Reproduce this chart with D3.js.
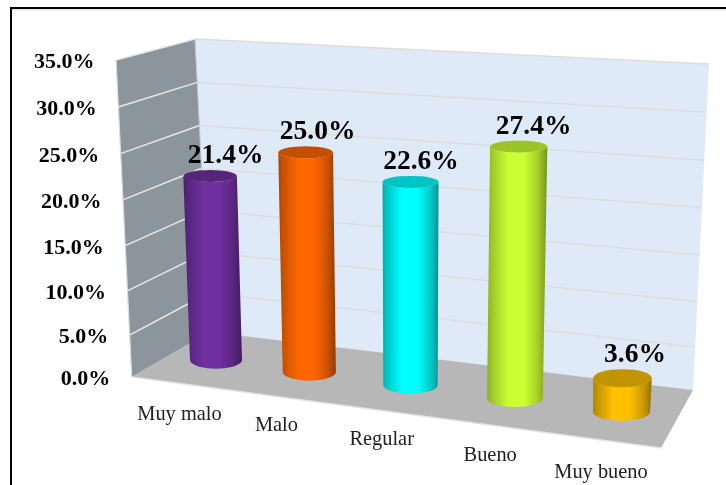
<!DOCTYPE html>
<html><head><meta charset="utf-8">
<script src="https://cdn.jsdelivr.net/npm/d3@7"></script>
<style>html,body{margin:0;padding:0;background:#fff;overflow:hidden}svg{display:block;filter:blur(.35px)}text{font-family:"Liberation Serif",serif}</style>
</head><body><svg id="c" width="726" height="485"></svg>
<script>
const categories = ["Muy malo","Malo","Regular","Bueno","Muy bueno"];
const values = [21.4,25.0,22.6,27.4,3.6];
const barColors = ["#7030a0","#ff6600","#00ffff","#ccff33","#ffc000"];
const tickValues = [0,5,10,15,20,25,30,35];

const svg = d3.select("#c");
const defs = svg.append("defs");

// Wall geometry of the 3-D box
const P = {frontTop:[116,60],backTop:[195,39],backBottom:[210,332],frontBottom:[131.7,377],rightTop:[709,64],rightBottom:[693,390],floorFront:[661,448]};
const frac = d3.scalePow().exponent(1.04).domain([0,35]).range([0,1]);
const lerp = (a,b,t)=>[a[0]+(b[0]-a[0])*t,a[1]+(b[1]-a[1])*t];
const poly = pts => pts.map(p=>p.join(",")).join(" ");

// Frame
svg.append("rect").attr("x",12).attr("y",9).attr("width",714).attr("height",1.5).attr("fill","#e4e4e4");
svg.append("path").attr("d","M11,485V8H726").attr("fill","none").attr("stroke","#000").attr("stroke-width",2);

// Walls and floor
svg.append("polygon").attr("points",poly([P.backTop,P.rightTop,P.rightBottom,P.backBottom])).attr("fill","#deeaf8");
svg.append("polygon").attr("points",poly([P.frontTop,P.backTop,P.backBottom,P.frontBottom])).attr("fill","#8c959c");
svg.append("polygon").attr("points",poly([P.frontBottom,P.backBottom,P.rightBottom,P.floorFront])).attr("fill","#b7b7b7");

// Grid
tickValues.filter(v=>v>0).forEach(v=>{
  const t=frac(v), a=lerp(P.frontBottom,P.frontTop,t), b=lerp(P.backBottom,P.backTop,t), c=lerp(P.rightBottom,P.rightTop,t);
  svg.append("line").attr("x1",a[0]).attr("y1",a[1]).attr("x2",b[0]).attr("y2",b[1]).attr("stroke","#e6e8ea").attr("stroke-width",1.5);
  svg.append("line").attr("x1",b[0]).attr("y1",b[1]).attr("x2",c[0]).attr("y2",c[1]).attr("stroke","#e0dcd9").attr("stroke-width",1.5);
});
svg.append("line").attr("x1",P.frontTop[0]).attr("y1",P.frontTop[1]).attr("x2",P.frontBottom[0]).attr("y2",P.frontBottom[1]).attr("stroke","#dcdfe1").attr("stroke-width",1.2);
svg.append("line").attr("x1",P.backTop[0]).attr("y1",P.backTop[1]).attr("x2",P.backBottom[0]).attr("y2",P.backBottom[1]).attr("stroke","#c4ccd4").attr("stroke-width",1);
svg.append("line").attr("x1",P.frontBottom[0]).attr("y1",P.frontBottom[1]).attr("x2",P.floorFront[0]).attr("y2",P.floorFront[1]).attr("stroke","#e4e4e4").attr("stroke-width",1.5);

// Value axis labels
svg.append("g").selectAll("text").data(tickValues).join("text")
  .attr("x",v=>lerp(P.frontBottom,P.frontTop,frac(v))[0]-21.5)
  .attr("y",v=>lerp(P.frontBottom,P.frontTop,frac(v))[1]+8)
  .attr("text-anchor","end").attr("font-size",22).attr("font-weight","bold").attr("fill","#000")
  .text(v=>d3.format(".1f")(v)+"%");

// Category positions along the floor
const idx = d3.scalePow().exponent(1.06).domain([0,categories.length-1]);
const baseX = idx.copy().range([216,621.5]);
const labX = idx.copy().range([179.5,601]);
const labY = d3.scalePow().exponent(1.2).domain([0,categories.length-1]).range([420,478]);
const baseY = d3.scaleLinear().domain([216,621.5]).range([360,412]);
const pxPerUnit = d3.scaleLinear().domain([216,621.5]).range([8.6,9.4]);
const lean = d3.scaleLinear().domain([216,409,621.5]).range([-0.032,0,0.03]);
const rxBase = d3.scaleLinear().domain([216,621.5]).range([26,28.5]);
const ryTop = d3.scaleLinear().domain([34,184]).range([9,6]).clamp(true);
const labelDx = d3.scaleLinear().domain([0,1,2,3,4]).range([15.5,12,10.5,15,12.5]);
const ryBase = 8.7;

const bars = values.map((v,i)=>{
  const bx=baseX(i), by=baseY(bx), h=v*pxPerUnit(bx);
  return {v,i,bx,by,h,tx:bx+h*lean(bx),ty:by-h,rb:rxBase(bx),rt:rxBase(bx)+0.8,ry:ryTop(h),c:barColors[i]};
});

const shade=(c,k)=>{const r=d3.rgb(c);return d3.rgb(r.r*k,r.g*k,r.b*k).formatHex();};
bars.forEach(d=>{
  const g=defs.append("linearGradient").attr("id","g"+d.i).attr("x1",0).attr("x2",1).attr("y1",0).attr("y2",0);
  [[0,.68],[.08,.78],[.35,1],[.62,1],[.85,.8],[1,.58]].forEach(s=>g.append("stop").attr("offset",s[0]).attr("stop-color",shade(d.c,s[1])));
});

const gb=svg.append("g");
gb.selectAll("path").data(bars).join("path")
  .attr("d",d=>`M${d.tx-d.rt},${d.ty}L${d.bx-d.rb},${d.by}A${d.rb},${ryBase} 0 0 0 ${d.bx+d.rb},${d.by}L${d.tx+d.rt},${d.ty}A${d.rt},${d.ry} 0 0 1 ${d.tx-d.rt},${d.ty}Z`)
  .attr("fill",d=>`url(#g${d.i})`);
gb.selectAll("ellipse").data(bars).join("ellipse")
  .attr("cx",d=>d.tx).attr("cy",d=>d.ty).attr("rx",d=>d.rt).attr("ry",d=>d.ry)
  .attr("fill",d=>shade(d.c,.77));

// Data labels
svg.append("g").selectAll("text").data(bars).join("text")
  .attr("x",d=>d.tx+labelDx(d.i)).attr("y",d=>d.ty-d.ry-7)
  .attr("text-anchor","middle").attr("font-size",27.5).attr("font-weight","bold").attr("fill","#000")
  .text(d=>d.v.toFixed(1)+"%");

// Category labels
svg.append("g").selectAll("text").data(categories).join("text")
  .attr("x",(d,i)=>labX(i)).attr("y",(d,i)=>labY(i))
  .attr("text-anchor","middle").attr("font-size",20.4).attr("fill","#222")
  .text(d=>d);
</script></body></html>
